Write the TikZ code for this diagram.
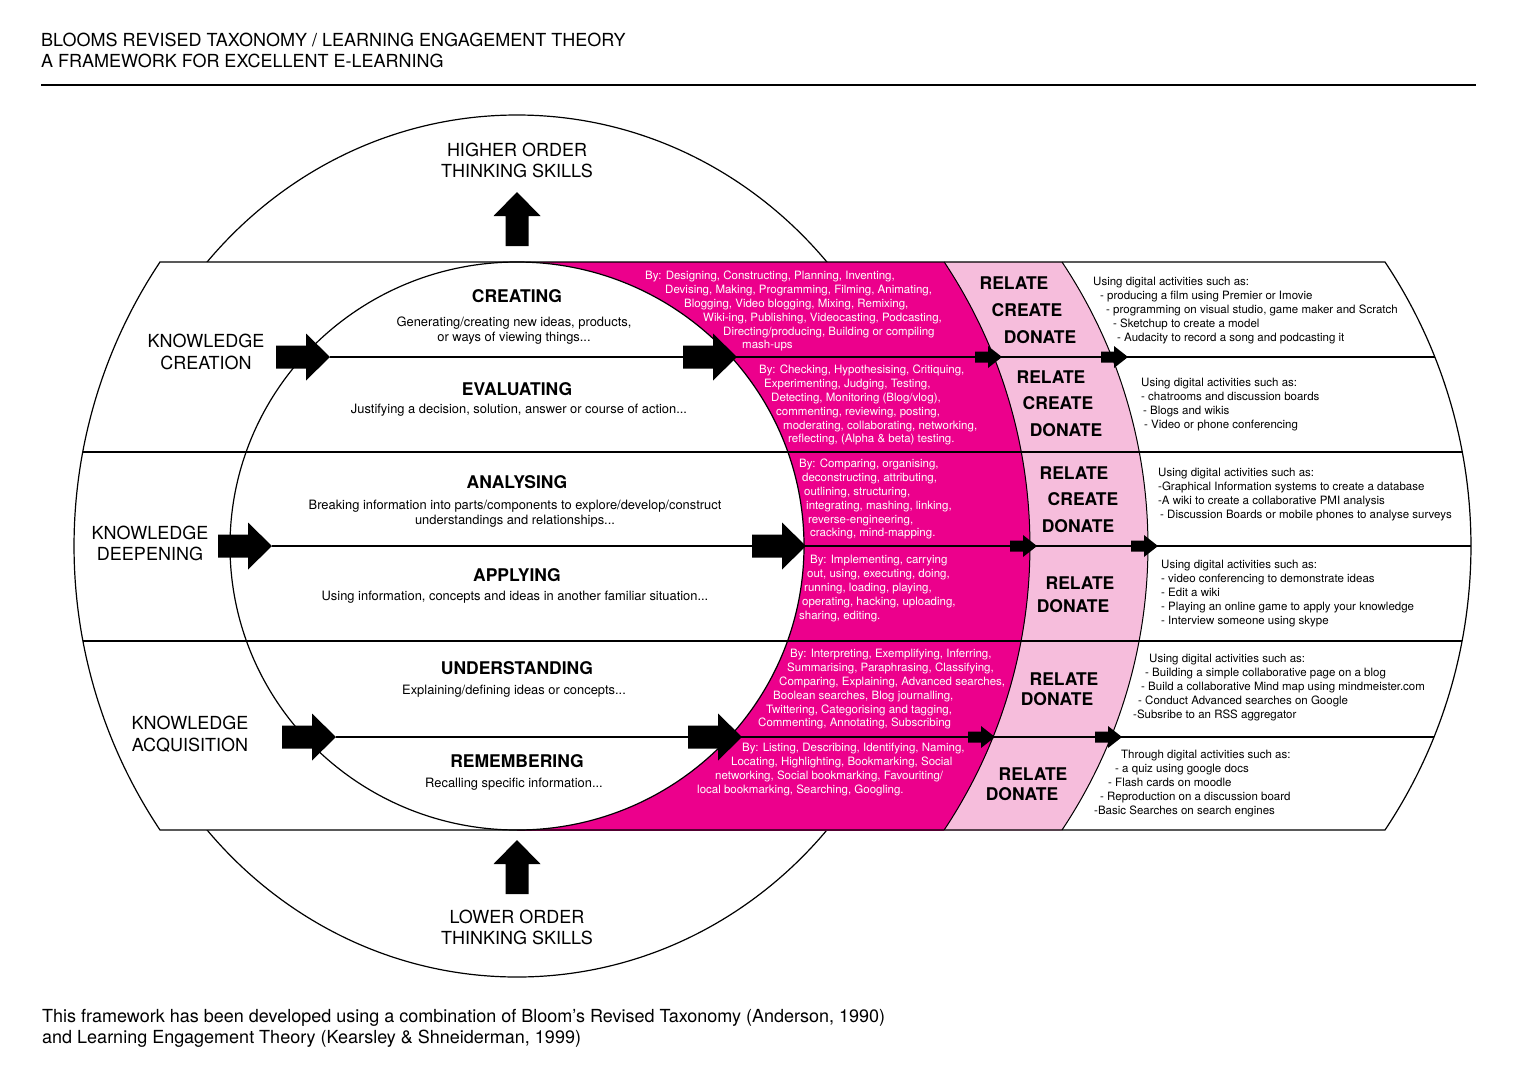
\documentclass[tikz,border=0pt]{standalone}
\usepackage{fontspec}
\setmainfont{TeX Gyre Heros}
\definecolor{mag}{RGB}{236,0,140}
\definecolor{pnk}{RGB}{246,189,220}
\newcommand\txtblock[5]{%
  \foreach \dx/\ltext [count=\i from 0] in {#5}{%
    \node[#2, anchor=base west] (#1-\i) at ({#3+\dx},{#4+13.8*\i}) {\ltext};}}
\tikzset{
  big/.style={font=\fontsize{18}{21}\selectfont, inner sep=0pt},
  headtxt/.style={font=\fontsize{17.5}{21}\selectfont\bfseries, inner sep=0pt},
  desc/.style={font=\fontsize{12.9}{15}\selectfont, inner sep=0pt},
  smalltxt/.style={font=\fontsize{11.5}{13.8}\selectfont, inner sep=0pt},
  magtxt/.style={smalltxt, text=white},
  outline/.style={line width=1.2pt},
  bigarrow/.pic={\fill (0,0) -- (-24,-23.5) -- (-24,-11.5) -- (-54,-11.5) -- (-54,11.5) -- (-24,11.5) -- (-24,23.5) -- cycle;},
  smallarrow/.pic={\fill (0,0) -- (-14,-11) -- (-14,-5.5) -- (-27,-5.5) -- (-27,5.5) -- (-14,5.5) -- (-14,11) -- cycle;}
}
\begin{document}
\begin{tikzpicture}[x=1pt,y=-1pt]
\useasboundingbox (0,0) rectangle (1527,1080);
\fill[white] (0,0) rectangle (1527,1080);

% title
\node[big, anchor=base west] (t1) at (41,46.4) {BLOOMS REVISED TAXONOMY / LEARNING ENGAGEMENT THEORY};
\node[big, anchor=base west] (t2) at (41,67.4) {A FRAMEWORK FOR EXCELLENT E-LEARNING};
\coordinate (ruleL) at (41,85);
\coordinate (ruleR) at (1476,85);
\draw[outline] (ruleL) -- (ruleR);

% outer ellipse
\draw[outline] (517,546) ellipse [x radius=412, y radius=431];

% band fill
\fill[white] (160,262) -- (1385,262) arc[start angle=-33.69, end angle=33.69, radius=512]
  -- (160,830) arc[start angle=146.31, end angle=213.69, radius=512] -- cycle;

% pink and magenta
\begin{scope}
  \clip (517,262) rectangle (1600,830);
  \fill[pnk] (636,546) circle[radius=512];
  \fill[mag] (517,546) circle[radius=513];
\end{scope}

% inner ellipse
\filldraw[fill=white, outline] (517,546) ellipse [x radius=287, y radius=284];

% colour boundaries
\draw[line width=1pt] (944.2,262) arc[start angle=-33.61, end angle=33.61, radius=513];
\draw[line width=1pt] (1062,262) arc[start angle=-33.69, end angle=33.69, radius=512];

% band outline
\draw[outline] (160,262) -- (1385,262) arc[start angle=-33.69, end angle=33.69, radius=512]
  -- (160,830) arc[start angle=146.31, end angle=213.69, radius=512] -- cycle;

% arrow tips
\coordinate (tipC) at (330,357);
\coordinate (tipD) at (272,546);
\coordinate (tipA) at (336,737);
\coordinate (midC) at (737,357);
\coordinate (midD) at (806,546);
\coordinate (midA) at (742,737);
\coordinate (upT) at (517,192);
\coordinate (upB) at (517,840);

% horizontal lines
\draw[outline] (tipC) -- (1434.8,357);
\draw[outline] (82.7,452) -- (1462.3,452);
\draw[outline] (tipD) -- (1471,546);
\draw[outline] (82.9,641) -- (1462.1,641);
\draw[outline] (tipA) -- (1434,737);

% arrows
\path (tipC) pic{bigarrow};
\path (tipD) pic{bigarrow};
\path (tipA) pic{bigarrow};
\path (midC) pic{bigarrow};
\path (midD) pic{bigarrow};
\path (midA) pic{bigarrow};
\path (upT) pic[rotate=90]{bigarrow};
\path (upB) pic[rotate=90]{bigarrow};
\path (1002,357) pic{smallarrow};
\path (1128,357) pic{smallarrow};
\path (1037,546) pic{smallarrow};
\path (1158,546) pic{smallarrow};
\path (995,737) pic{smallarrow};
\path (1122,737) pic{smallarrow};

% higher / lower order
\node[big, anchor=base] (ho1) at (517,156.4) {HIGHER ORDER};
\node[big, anchor=base] (ho2) at (517,177.4) {THINKING SKILLS};
\node[big, anchor=base] (lo1) at (517,923.4) {LOWER ORDER};
\node[big, anchor=base] (lo2) at (517,944.4) {THINKING SKILLS};

% knowledge labels
\node[big, anchor=base] (kc1) at (206,347.4) {KNOWLEDGE};
\node[big, anchor=base] (kc2) at (206,369.4) {CREATION};
\node[big, anchor=base] (kd1) at (150,539.4) {KNOWLEDGE};
\node[big, anchor=base] (kd2) at (150,560.4) {DEEPENING};
\node[big, anchor=base] (ka1) at (190,729.4) {KNOWLEDGE};
\node[big, anchor=base] (ka2) at (190,751.4) {ACQUISITION};

% taxonomy headings
\node[headtxt, anchor=base] (h1) at (517,302.3) {CREATING};
\node[desc, anchor=base] (d1a) at (514,326) {Generating/creating new ideas, products,};
\node[desc, anchor=base] (d1b) at (514,341) {or ways of viewing things...};
\node[headtxt, anchor=base] (h2) at (517,395.3) {EVALUATING};
\node[desc, anchor=base] (d2a) at (519,413.5) {Justifying a decision, solution, answer or course of action...};
\node[headtxt, anchor=base] (h3) at (517,488.3) {ANALYSING};
\node[desc, anchor=base] (d3a) at (515,509) {Breaking information into parts/components to explore/develop/construct};
\node[desc, anchor=base] (d3b) at (515,524) {understandings and relationships...};
\node[headtxt, anchor=base] (h4) at (517,581.3) {APPLYING};
\node[desc, anchor=base] (d4a) at (515,600) {Using information, concepts and ideas in another familiar situation...};
\node[headtxt, anchor=base] (h5) at (517,674.3) {UNDERSTANDING};
\node[desc, anchor=base] (d5a) at (514,694) {Explaining/defining ideas or concepts...};
\node[headtxt, anchor=base] (h6) at (517,767.3) {REMEMBERING};
\node[desc, anchor=base] (d6a) at (514,787) {Recalling specific information...};

% magenta texts
\txtblock{mA}{magtxt}{645}{279.8}{0/{By: Designing, Constructing, Planning, Inventing,},
  20/{Devising, Making, Programming, Filming, Animating,},
  39/{Blogging, Video blogging, Mixing, Remixing,},
  58/{Wiki-ing, Publishing, Videocasting, Podcasting,},
  78/{Directing/producing, Building or compiling},
  97/{mash-ups}}
\txtblock{mB}{magtxt}{759}{373.8}{0/{By: Checking, Hypothesising, Critiquing,},
  5/{Experimenting, Judging, Testing,},
  12/{Detecting, Monitoring (Blog/vlog),},
  17/{commenting, reviewing, posting,},
  24/{moderating, collaborating, networking,},
  29/{reflecting, (Alpha \& beta) testing.}}
\txtblock{mC}{magtxt}{799}{467.8}{0/{By: Comparing, organising,},
  3/{deconstructing, attributing,},
  5/{outlining, structuring,},
  7/{integrating, mashing, linking,},
  9/{reverse-engineering,},
  11/{cracking, mind-mapping.}}
\txtblock{mD}{magtxt}{799}{563.8}{11/{By: Implementing, carrying},
  8/{out, using, executing, doing,},
  5/{running, loading, playing,},
  3/{operating, hacking, uploading,},
  0/{sharing, editing.}}
\txtblock{mE}{magtxt}{758}{657.8}{32/{By: Interpreting, Exemplifying, Inferring,},
  29/{Summarising, Paraphrasing, Classifying,},
  21/{Comparing, Explaining, Advanced searches,},
  15/{Boolean searches, Blog journalling,},
  8/{Twittering, Categorising and tagging,},
  0/{Commenting, Annotating, Subscribing}}
\txtblock{mF}{magtxt}{697}{751.8}{45/{By: Listing, Describing, Identifying, Naming,},
  34/{Locating, Highlighting, Bookmarking, Social},
  18/{networking, Social bookmarking, Favouriting/},
  0/{local bookmarking, Searching, Googling.}}

% relate create donate
\node[headtxt] (p1a) at (1014,283) {RELATE};
\node[headtxt] (p1b) at (1027,310) {CREATE};
\node[headtxt] (p1c) at (1040,337) {DONATE};
\node[headtxt] (p2a) at (1051,377) {RELATE};
\node[headtxt] (p2b) at (1058,403) {CREATE};
\node[headtxt] (p2c) at (1066,430) {DONATE};
\node[headtxt] (p3a) at (1074,473) {RELATE};
\node[headtxt] (p3b) at (1083,499) {CREATE};
\node[headtxt] (p3c) at (1078,526) {DONATE};
\node[headtxt] (p4a) at (1080,583) {RELATE};
\node[headtxt] (p4b) at (1073,606) {DONATE};
\node[headtxt] (p5a) at (1064,679) {RELATE};
\node[headtxt] (p5b) at (1057,699) {DONATE};
\node[headtxt] (p6a) at (1033,774) {RELATE};
\node[headtxt] (p6b) at (1022,794) {DONATE};

% right texts
\txtblock{rA}{smalltxt}{1093}{285.8}{0/{Using digital activities such as:},
  7/{- producing a film using Premier or Imovie},
  13/{- programming on visual studio, game maker and Scratch},
  20/{- Sketchup to create a model},
  24/{- Audacity to record a song and podcasting it}}
\txtblock{rB}{smalltxt}{1141}{386.8}{0/{Using digital activities such as:},
  0/{- chatrooms and discussion boards},
  2/{- Blogs and wikis},
  3/{- Video or phone conferencing}}
\txtblock{rC}{smalltxt}{1158}{476.8}{0/{Using digital activities such as:},
  0/{-Graphical Information systems to create a database},
  0/{-A wiki to create a collaborative PMI analysis},
  2/{- Discussion Boards or mobile phones to analyse surveys}}
\txtblock{rD}{smalltxt}{1161}{568.8}{0/{Using digital activities such as:},
  0/{- video conferencing to demonstrate ideas},
  0/{- Edit a wiki},
  0/{- Playing an online game to apply your knowledge},
  0/{- Interview someone using skype}}
\txtblock{rE}{smalltxt}{1133}{662.8}{16/{Using digital activities such as:},
  12/{- Building a simple collaborative page on a blog},
  8/{- Build a collaborative Mind map using mindmeister.com},
  5/{- Conduct Advanced searches on Google},
  0/{-Subsribe to an RSS aggregator}}
\txtblock{rF}{smalltxt}{1094}{758.8}{27/{Through digital activities such as:},
  21/{- a quiz using google docs},
  14/{- Flash cards on moodle},
  6/{- Reproduction on a discussion board},
  0/{-Basic Searches on search engines}}

% footer
\node[big, anchor=base west] (f1) at (42,1022) {This framework has been developed using a combination of Bloom’s Revised Taxonomy (Anderson, 1990)};
\node[big, anchor=base west] (f2) at (42,1043) {and Learning Engagement Theory (Kearsley \& Shneiderman, 1999)};
\end{tikzpicture}
\end{document}
